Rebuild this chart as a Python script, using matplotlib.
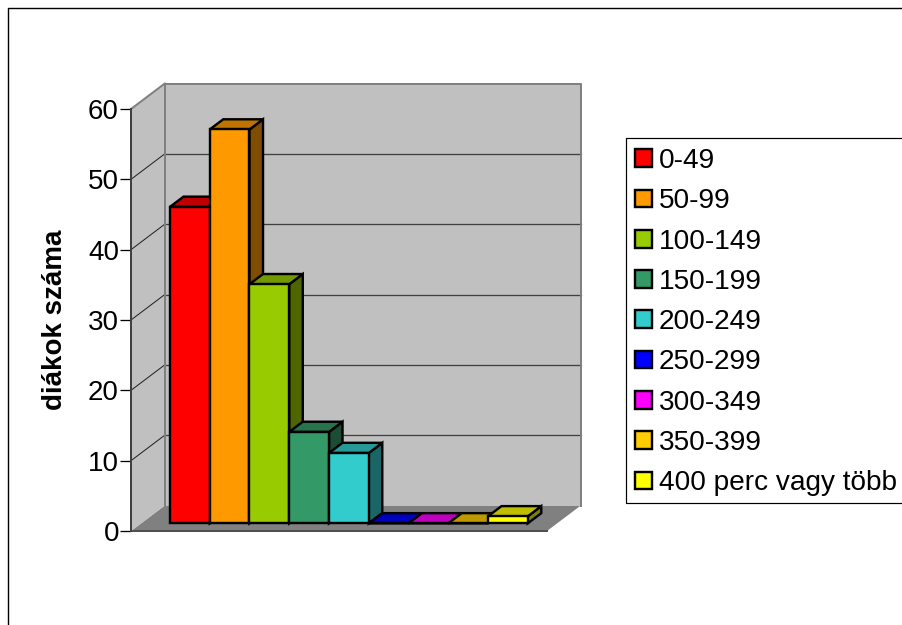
import matplotlib
matplotlib.use("Agg")
import matplotlib.pyplot as plt
from matplotlib.patches import Polygon, Patch, Rectangle
from matplotlib.lines import Line2D
from matplotlib.colors import to_rgb

categories = ["0-49", "50-99", "100-149", "150-199", "200-249",
              "250-299", "300-349", "350-399", "400 perc vagy több"]
values = [45, 56, 34, 13, 10, 0, 0, 0, 1]
colors = ["#FF0000", "#FF9900", "#99CC00", "#339966", "#33CCCC",
          "#0000FF", "#FF00FF", "#FFCC00", "#FFFF00"]
yticks = [0, 10, 20, 30, 40, 50, 60]
ylabel = "diákok száma"

W, H = 902, 625
FONT = "Liberation Sans"
plt.rcParams["font.family"] = [FONT, "DejaVu Sans"]
px = 0.72  # points per pixel at dpi=100

fig = plt.figure(figsize=(W / 100, H / 100), dpi=100, facecolor="white")

# front plane of the 3D box, in pixels
L, R, T, B = 131.0, 547.0, 109.0, 531.0
ax = fig.add_axes([L / W, 1 - B / H, (R - L) / W, (B - T) / H])
ax.patch.set_visible(False)
unit_x = 39.75
xmin = -1.226
ax.set_xlim(xmin, xmin + (R - L) / unit_x)
ax.set_ylim(0, 60)
unit_y = (B - T) / 60
xmax = ax.get_xlim()[1]

# depth of the box (back plane shift)
DX = 33.8 / unit_x
DY = 25.5 / unit_y


def P(x, y, d):
    return (x + d * DX, y + d * DY)


# walls and floor
ax.add_patch(Polygon([P(xmin, 0, 0), P(xmin, 0, 1), P(xmax, 0, 1), P(xmax, 0, 0)],
                     fc="#808080", ec="none", clip_on=False, zorder=1))
ax.add_patch(Polygon([P(xmin, 0, 1), P(xmin, 60, 1), P(xmax, 60, 1), P(xmax, 0, 1)],
                     fc="#C0C0C0", ec="none", clip_on=False, zorder=1))
ax.add_patch(Polygon([P(xmin, 0, 0), P(xmin, 60, 0), P(xmin, 60, 1), P(xmin, 0, 1)],
                     fc="#C0C0C0", ec="none", clip_on=False, zorder=1))

# grid lines
for v in yticks[1:-1]:
    a, b, c = P(xmin, v, 0), P(xmin, v, 1), P(xmax, v, 1)
    ax.plot([a[0], b[0]], [a[1], b[1]], color="#202020", lw=1 * px, clip_on=False, zorder=2)
    ax.plot([b[0], c[0]], [b[1], c[1]], color="#404040", lw=1.3 * px, clip_on=False, zorder=2)

# wall outlines
q = [P(xmin, 0, 1), P(xmin, 60, 1), P(xmax, 60, 1), P(xmax, 0, 1)]
ax.plot([p[0] for p in q], [p[1] for p in q], color="#808080", lw=2 * px,
        clip_on=False, zorder=3)
a, b = P(xmin, 60, 0), P(xmin, 60, 1)
ax.plot([a[0], b[0]], [a[1], b[1]], color="#808080", lw=2 * px, clip_on=False, zorder=3)
ax.plot([xmin, xmax], [0, 0], color="#505050", lw=2 * px, clip_on=False, zorder=3)

# bars
d0, d1 = 0.30, 0.70
edge = dict(ec="black", lw=2.4 * px, joinstyle="miter", clip_on=False)
for i, (v, c) in enumerate(zip(values, colors)):
    z = 4 + i * 0.1
    rgb = to_rgb(c)
    l, r = i - 0.5, i + 0.5
    base = 0.0
    ax.add_patch(Polygon([P(r, base, d0), P(r, base, d1), P(r, v, d1), P(r, v, d0)],
                         fc=[k * 0.5 for k in rgb], zorder=z, **edge))
    ax.add_patch(Polygon([P(l, v, d0), P(l, v, d1), P(r, v, d1), P(r, v, d0)],
                         fc=[k * 0.75 for k in rgb], zorder=z, **edge))
    ax.bar(i + d0 * DX, v, width=1.0, bottom=d0 * DY, color=c, edgecolor="black",
           linewidth=2.4 * px, clip_on=False, zorder=z)

# axis
for s in ["top", "right", "bottom"]:
    ax.spines[s].set_visible(False)
ax.spines["left"].set_color("#404040")
ax.spines["left"].set_linewidth(2 * px)
ax.spines["left"].set_zorder(3)
ax.set_xticks([])
ax.set_yticks(yticks)
ax.tick_params(axis="y", length=11 * px, width=1.3 * px, color="black", pad=0.8,
               labelsize=20)
ax.set_ylabel(ylabel, fontsize=20, fontweight="bold", family=FONT)
ax.yaxis.set_label_coords(68 / W, 1 - 320 / H, transform=fig.transFigure)

# legend box runs past the right edge of the picture
fig.add_artist(Rectangle((625.5 / W, 1 - 502.5 / H), 300 / W, 365 / H, fc="white", ec="black",
                         lw=1.2 * px, transform=fig.transFigure, zorder=1))
handles = [Patch(fc=c, ec="black", lw=2.4 * px) for c in colors]
leg = fig.legend(handles, categories, loc="upper left",
                 bbox_to_anchor=(626.5 / W, 1 - 139.7 / H), bbox_transform=fig.transFigure,
                 fontsize=20.15, frameon=False, borderaxespad=0, borderpad=0.3,
                 labelspacing=0.51, handlelength=0.6, handleheight=0.6, handletextpad=0.26)
leg.set_zorder(2)

# outer frame, open to the right and bottom
fig.add_artist(Line2D([7.6 / W, 7.6 / W, 1], [0, 1 - 7.6 / H, 1 - 7.6 / H],
                      color="black", lw=1.4 * px, transform=fig.transFigure))

fig.savefig("out.png", dpi=100)
